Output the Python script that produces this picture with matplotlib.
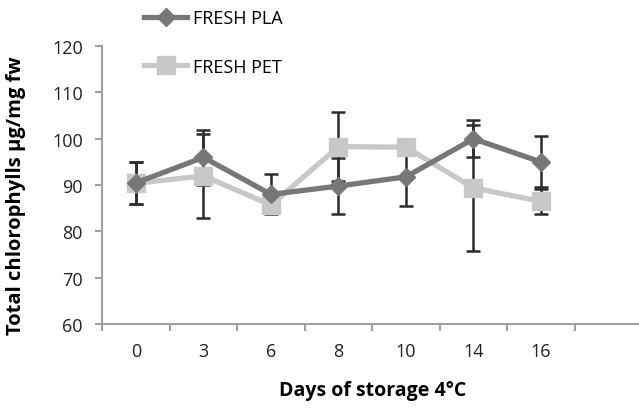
import numpy as np
import matplotlib
matplotlib.use('Agg')
import matplotlib.pyplot as plt

# days of storage (categorical axis, one empty slot at the end)
days = ['0', '3', '6', '8', '10', '14', '16']
pla = [90.5, 96.0, 88.0, 89.8, 91.8, 100.0, 95.0]
pla_err = [4.5, 6.0, 4.3, 6.0, 6.4, 4.0, 5.5]
pet = [90.4, 92.0, 85.7, 98.3, 98.2, 89.4, 86.5]
pet_err = [4.5, 9.0, 1.5, 7.4, 1.0, 13.6, 2.7]

plt.rcParams['font.family'] = ['Open Sans', 'DejaVu Sans']

fig = plt.figure(figsize=(6.39, 4.10), dpi=100)
ax = fig.add_axes([0.16, 0.207, 0.845, 0.678])

x = np.arange(len(days))
ax.errorbar(x, pla, yerr=pla_err, fmt='none', ecolor='#2b2b2b', elinewidth=1.8,
            capsize=5, capthick=1.8, zorder=1)
ax.errorbar(x, pet, yerr=pet_err, fmt='none', ecolor='#2b2b2b', elinewidth=1.8,
            capsize=5, capthick=1.8, zorder=1)
ax.plot(x, pla, color='#777777', lw=3.8, marker='D', ms=9, mec='#777777',
        label='FRESH PLA', zorder=3)
ax.plot(x, pet, color='#c8c8c8', lw=3.8, marker='s', ms=13, mec='#c8c8c8',
        label='FRESH PET', zorder=2)

ax.set_ylim(60, 120)
ax.set_yticks(np.arange(60, 121, 10))
ax.set_xlim(-0.5, len(days) + 0.5)
ax.set_xticks(x)
ax.set_xticklabels(days)
ax.set_xticks(np.arange(-0.5, len(days) + 0.6, 1), minor=True)
ax.tick_params(axis='x', which='major', length=0, pad=13, labelsize=13, colors='#222222')
ax.tick_params(axis='x', which='minor', length=5, width=1.5, color='#a0a0a0')
ax.tick_params(axis='y', length=5, width=1.5, color='#a0a0a0', labelsize=13,
               labelcolor='#222222', pad=9)

for s in ['top', 'right']:
    ax.spines[s].set_visible(False)
for s in ['left', 'bottom']:
    ax.spines[s].set_color('#a0a0a0')
    ax.spines[s].set_linewidth(1.5)

ax.set_xlabel('Days of storage 4°C', fontsize=14, fontweight='bold', labelpad=14)
ax.set_ylabel('Total chlorophylls µg/mg fw', fontsize=14.5, fontweight='bold')
ax.yaxis.set_label_coords(-0.142, 0.465)

fig.legend(loc='upper left', bbox_to_anchor=(0.2, 1.015), frameon=False, fontsize=13,
           labelspacing=1.7, handlelength=2.4, handletextpad=0.3)

fig.savefig('out.png', dpi=100)
